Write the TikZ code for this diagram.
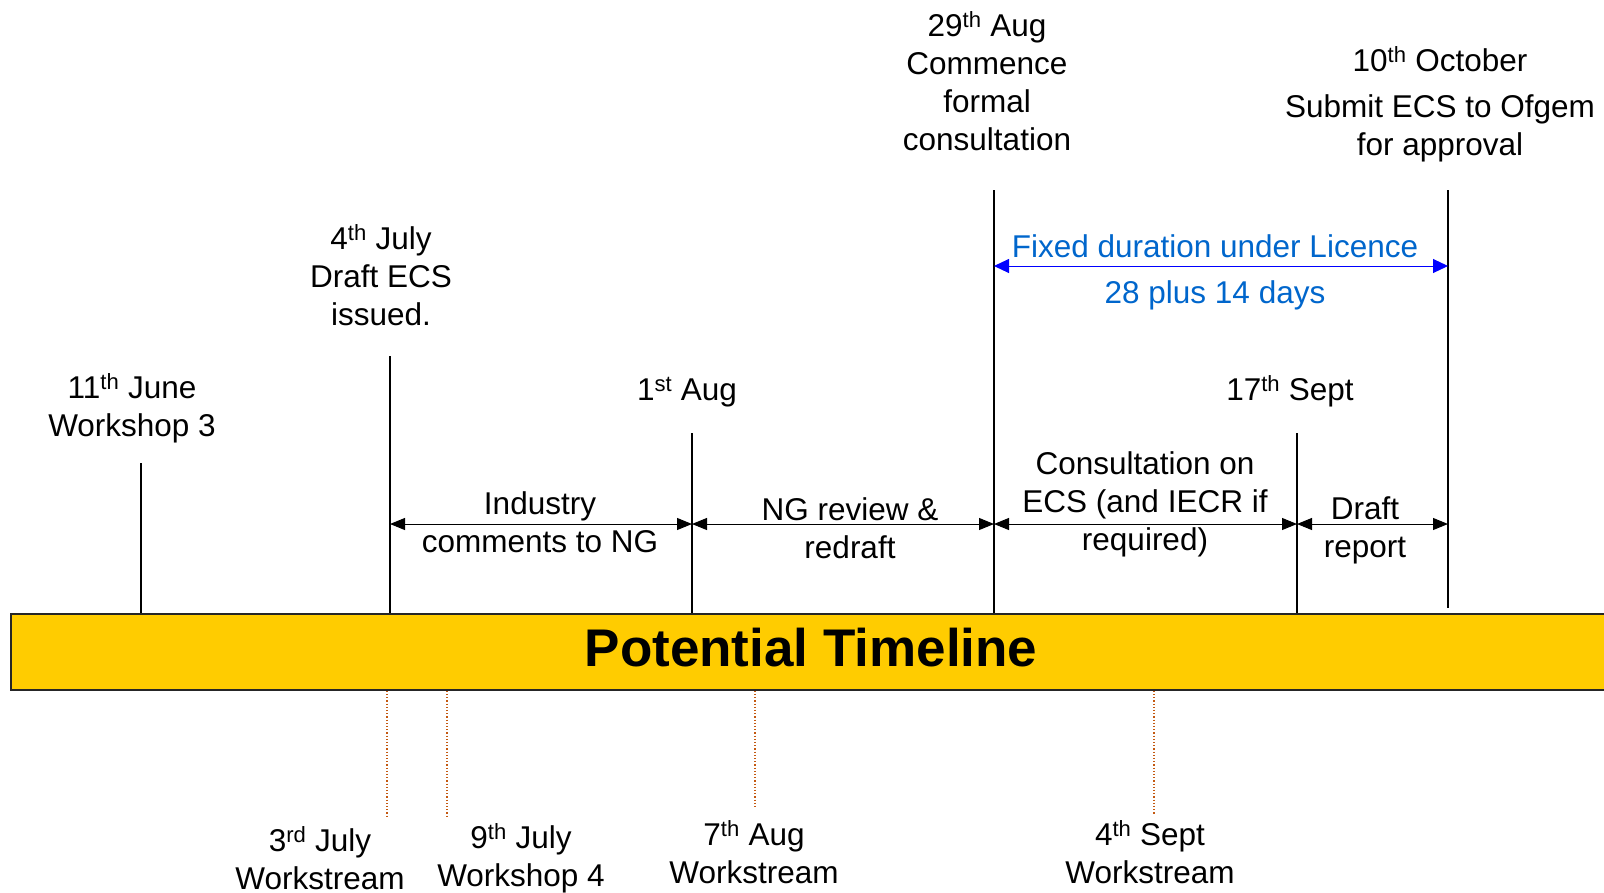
\documentclass[tikz,border=0pt]{standalone}
\usepackage{fontspec}
\setmainfont{Liberation Sans}
\usetikzlibrary{arrows.meta}
\definecolor{baryellow}{RGB}{255,204,0}
\definecolor{blueText}{RGB}{0,102,204}
\definecolor{rust}{RGB}{196,89,17}
\begin{document}
\begin{tikzpicture}[x=1pt,y=-1pt,
  lbl/.style={align=center, inner sep=0, font=\fontsize{31.5}{38}\selectfont},
  bluelbl/.style={lbl, text=blueText},
  mtick/.style={line width=2pt},
  dimarrow/.style={line width=1pt, {Triangle[length=15pt,width=12pt]}-{Triangle[length=15pt,width=12pt]}},
  bluearrow/.style={line width=1pt, draw=blue, {Triangle[length=15pt,width=14pt]}-{Triangle[length=15pt,width=14pt]}},
  wsline/.style={line width=1.2pt, draw=rust, dotted},
  bar/.style={draw=black!85, line width=1.5pt, fill=baryellow, minimum width=1600pt, minimum height=76pt, inner sep=0,
    font=\fontsize{53}{60}\selectfont\bfseries}
]
\useasboundingbox (0,0) rectangle (1604,892);

% bar
\node[bar] (bar) at (811,652) {};
\node[inner sep=0, font=\fontsize{53}{60}\selectfont\bfseries] (title) at (811,648) {Potential Timeline};

% upper ticks
\coordinate (tJun) at (141,463);
\coordinate (tJul) at (390,356);
\coordinate (tAug1) at (692,433);
\coordinate (tAug29) at (994,190);
\coordinate (tSep) at (1297,433);
\coordinate (tOct) at (1448,190);
\coordinate (tOctEnd) at (1448,608);

\draw[mtick] (tJun) -- (tJun |- bar.north);
\draw[mtick] (tJul) -- (tJul |- bar.north);
\draw[mtick] (tAug1) -- (tAug1 |- bar.north);
\draw[mtick] (tAug29) -- (tAug29 |- bar.north);
\draw[mtick] (tSep) -- (tSep |- bar.north);
\draw[mtick] (tOct) -- (tOctEnd);

% duration arrows
\coordinate (aJul) at (390,524);
\coordinate (aAug1) at (692,524);
\coordinate (aAug29) at (994,524);
\coordinate (aSep) at (1297,524);
\coordinate (aOct) at (1448,524);
\draw[dimarrow] (aJul) -- (aAug1);
\draw[dimarrow] (aAug1) -- (aAug29);
\draw[dimarrow] (aAug29) -- (aSep);
\draw[dimarrow] (aSep) -- (aOct);

\coordinate (bL) at (994,266);
\coordinate (bR) at (1448,266);
\draw[bluearrow] (bL) -- (bR);

% upper labels
\node[lbl] (lJun) at (132,408) {11\textsuperscript{th} June\\Workshop 3};
\node[lbl] (lJul) at (381,275) {4\textsuperscript{th} July\\Draft ECS\\issued.};
\node[lbl] (lAug1) at (687,392) {1\textsuperscript{st} Aug};
\node[lbl] (lAug29) at (987,81) {29\textsuperscript{th} Aug\\Commence\\formal\\consultation};
\node[lbl] (lOct) at (1440,104) {10\textsuperscript{th} October\\[8pt]Submit ECS to Ofgem\\for approval};
\node[bluelbl] (lFixed) at (1215,272) {Fixed duration under Licence\\[8pt]28 plus 14 days};
\node[lbl] (lSep) at (1290,391) {17\textsuperscript{th} Sept};

\node[lbl] (lInd) at (540,522) {Industry\\comments to NG};
\node[lbl] (lNG) at (850,528) {NG review \&\\redraft};
\node[lbl] (lCons) at (1145,504) {Consultation on\\ECS (and IECR if\\required)};
\node[lbl] (lDraft) at (1365,530) {Draft\\report};

% lower dotted lines
\coordinate (w1) at (387,816);
\coordinate (w2) at (447,818);
\coordinate (w3) at (755,808);
\coordinate (w4) at (1154,814);
\draw[wsline] (w1 |- bar.south) -- (w1);
\draw[wsline] (w2 |- bar.south) -- (w2);
\draw[wsline] (w3 |- bar.south) -- (w3);
\draw[wsline] (w4 |- bar.south) -- (w4);

% lower labels
\node[lbl] (bJul3) at (320,858) {3\textsuperscript{rd} July\\Workstream};
\node[lbl] (bJul9) at (521,858) {9\textsuperscript{th} July\\Workshop 4};
\node[lbl] (bAug7) at (754,852) {7\textsuperscript{th} Aug\\Workstream};
\node[lbl] (bSep4) at (1150,852) {4\textsuperscript{th} Sept\\Workstream};
\end{tikzpicture}
\end{document}
